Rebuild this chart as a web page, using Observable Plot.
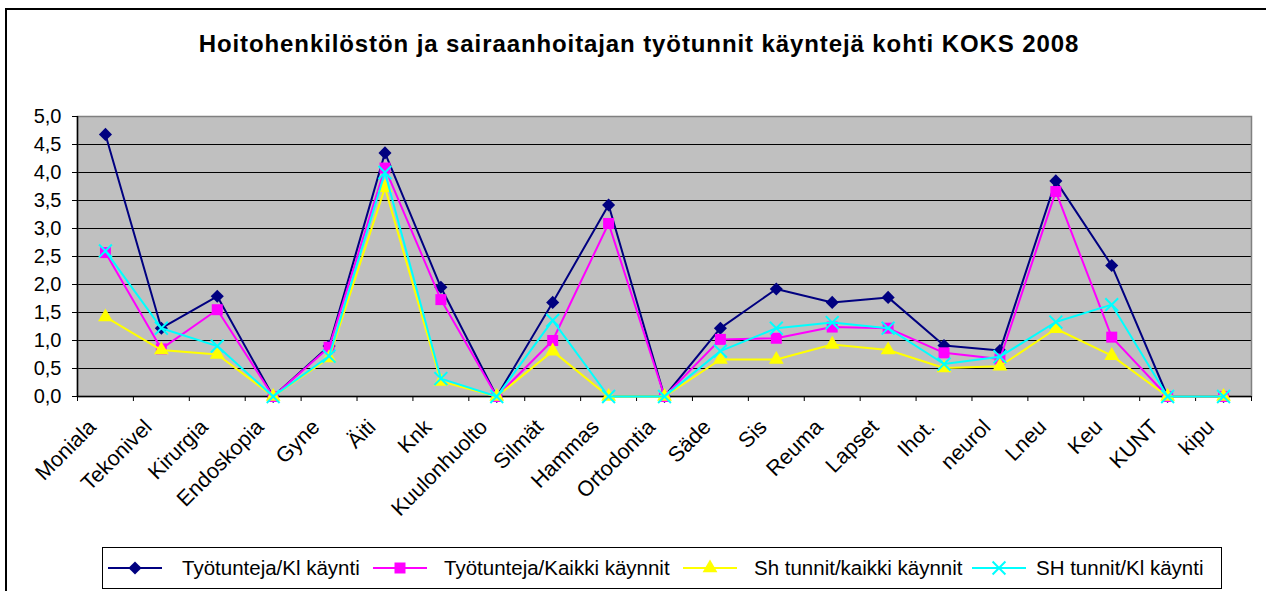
<!DOCTYPE html>
<html><head><meta charset="utf-8">
<script src="https://cdn.jsdelivr.net/npm/d3@7"></script>
<script src="https://cdn.jsdelivr.net/npm/@observablehq/plot@0.6"></script>
<style>
body{margin:0;background:#fff;font-family:"Liberation Sans",Arial,sans-serif;}
#wrap{position:relative;width:1266px;height:591px;overflow:hidden;background:#fff;}
#frame{position:absolute;left:5px;top:8px;width:1400px;height:800px;border:2px solid #000;box-sizing:border-box;}
#title{position:absolute;left:6px;width:1266px;top:32px;text-align:center;font-weight:bold;font-size:24px;line-height:24px;letter-spacing:0.9px;white-space:nowrap;}
#chart{position:absolute;left:0;top:0;}
#legend{position:absolute;left:102px;top:547px;width:1120px;height:42px;border:1px solid #000;box-sizing:border-box;background:#fff;}
.item{position:absolute;top:0;height:40px;}
.lbl{position:absolute;top:8px;font-size:20.5px;line-height:23px;white-space:nowrap;}
</style></head>
<body>
<div id="wrap">
<div id="frame"></div>
<div id="chart"></div>
<div id="title">Hoitohenkilöstön ja sairaanhoitajan työtunnit käyntejä kohti KOKS 2008</div>
<div id="legend"></div>
</div>
<script>
const categories = ["Moniala","Tekonivel","Kirurgia","Endoskopia","Gyne","Äiti","Knk","Kuulonhuolto","Silmät","Hammas","Ortodontia","Säde","Sis","Reuma","Lapset","Ihot.","neurol","Lneu","Keu","KUNT","kipu"];
const seriesNames = ["Työtunteja/Kl käynti","Työtunteja/Kaikki käynnit","Sh tunnit/kaikki käynnit","SH tunnit/Kl käynti"];
const tyoKl      = [4.68,1.22,1.79,0,0.90,4.35,1.95,0,1.68,3.42,0,1.22,1.92,1.68,1.77,0.91,0.82,3.85,2.34,0,0];
const tyoKaikki  = [2.57,0.85,1.55,0,0.88,4.08,1.73,0,1.00,3.09,0,1.02,1.04,1.24,1.22,0.78,0.67,3.66,1.06,0,0];
const shKaikki   = [1.42,0.83,0.75,0,0.69,3.73,0.27,0,0.81,0,0,0.66,0.66,0.93,0.83,0.51,0.54,1.21,0.73,0,0];
const shKl       = [2.60,1.22,0.90,0,0.72,4.00,0.32,0,1.36,0,0,0.81,1.22,1.32,1.22,0.58,0.71,1.33,1.64,0,0];
const yTicks = [0,0.5,1,1.5,2,2.5,3,3.5,4,4.5,5];

const seriesValues = [tyoKl, tyoKaikki, shKaikki, shKl];
const colors = ["#000080","#FF00FF","#FFFF00","#00FFFF"];
const symbols = ["diamond2","square","triangle","times"];
const d3symbols = [d3.symbolDiamond2, d3.symbolSquare, d3.symbolTriangle, d3.symbolTimes];
const radii = [5.9, 6.2, 5.5, 5.9];

const n = categories.length;
const boundaries = d3.range(n + 1).map(i => i - 0.5);
const fmt = d => d3.format(".1f")(d).replace(".", ",");

const marks = [
  Plot.frame({fill: "#C0C0C0", stroke: null}),
  Plot.gridY(yTicks, {stroke: "#000", strokeOpacity: 1, strokeWidth: 1}),
  Plot.frame({stroke: "#808080", strokeWidth: 1.5, fill: null}),
  Plot.ruleY([0], {stroke: "#000", strokeWidth: 1.5}),
  Plot.ruleX([-0.5], {stroke: "#000", strokeWidth: 1.5}),
  Plot.axisY({ticks: yTicks, tickFormat: fmt, tickSize: 5, tickPadding: 11, fontSize: 20, label: null, stroke: "#000"}),
  Plot.axisX({ticks: boundaries, tickFormat: () => "", tickSize: 5, label: null, stroke: "#000"}),
  Plot.axisX({ticks: d3.range(n), tickFormat: i => categories[i], tickSize: 0, tickRotate: -45, fontSize: 21.5, label: null, tickPadding: 27, dx: -13})
];
seriesValues.forEach((vals, s) => {
  const rows = vals.map((v, i) => ({i, v}));
  marks.push(Plot.line(rows, {x: "i", y: "v", stroke: colors[s], strokeWidth: 2}));
  if (symbols[s] === "times") {
    marks.push(Plot.dot(rows, {x: "i", y: "v", symbol: symbols[s], r: radii[s], stroke: colors[s], strokeWidth: 2, fill: "none"}));
  } else {
    marks.push(Plot.dot(rows, {x: "i", y: "v", symbol: symbols[s], r: radii[s], fill: colors[s], stroke: "none"}));
  }
});

const chart = Plot.plot({
  width: 1266,
  height: 540,
  marginLeft: 77,
  marginRight: 15,
  marginTop: 116,
  marginBottom: 144,
  x: {type: "linear", domain: [-0.5, n - 0.5], axis: null},
  y: {domain: [0, 5], axis: null},
  style: {fontFamily: "'Liberation Sans', Arial, sans-serif", fontSize: "20px", color: "#000", background: "transparent", overflow: "visible"},
  marks
});
document.getElementById("chart").appendChild(chart);

// legend
const legend = d3.select("#legend");
const lineStarts = [5, 270, 580, 869];
const textStarts = [79, 341, 651, 933];
seriesNames.forEach((name, s) => {
  const svg = legend.append("svg").attr("class", "item")
    .style("left", lineStarts[s] + "px").attr("width", 56).attr("height", 40);
  svg.append("line").attr("x1", 0).attr("x2", 54).attr("y1", 20).attr("y2", 20)
    .attr("stroke", colors[s]).attr("stroke-width", 2);
  const sym = d3.symbol(d3symbols[s], Math.PI * radii[s] * radii[s]);
  const p = svg.append("path").attr("d", sym()).attr("transform", "translate(27,20)");
  if (symbols[s] === "times") p.attr("fill", "none").attr("stroke", colors[s]).attr("stroke-width", 2);
  else p.attr("fill", colors[s]);
  legend.append("div").attr("class", "lbl").style("left", textStarts[s] + "px").text(name);
});
</script>
</body></html>
